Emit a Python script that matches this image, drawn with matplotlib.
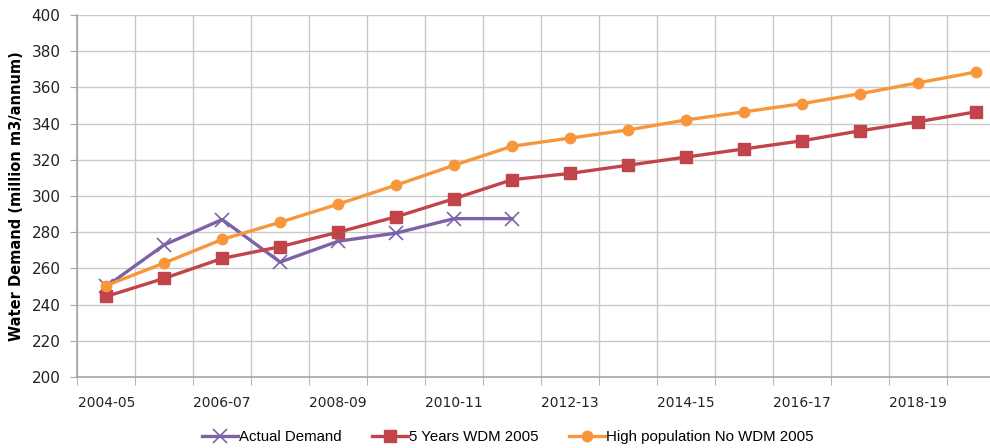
import numpy as np
import matplotlib
matplotlib.use("Agg")
import matplotlib.pyplot as plt
from matplotlib.ticker import FixedLocator

years = ["2004-05", "2005-06", "2006-07", "2007-08", "2008-09", "2009-10",
         "2010-11", "2011-12", "2012-13", "2013-14", "2014-15", "2015-16",
         "2016-17", "2017-18", "2018-19", "2019-20"]

actual_demand = [250, 273, 287, 263.5, 275, 279.5, 287.5, 287.5]
wdm_5yr = [244.5, 254.5, 265.5, 272, 280, 288.5, 298.5, 309, 312.5, 317,
           321.5, 326, 330.5, 336, 341, 346.5]
high_pop = [250.5, 263, 276, 285.5, 295.5, 306, 317, 327.5, 332, 336.5,
            342, 346.5, 351, 356.5, 362.5, 368.5]

purple = "#7E62A8"
red = "#C0444A"
orange = "#F7963A"

fig = plt.figure(figsize=(9.9, 4.48), dpi=100)
ax = fig.add_axes([0.078, 0.1585, 0.937, 0.808])

x = np.arange(len(years))

ax.plot(x[:len(actual_demand)], actual_demand, color=purple, linewidth=2.4,
        marker="x", markersize=10, markeredgewidth=1.2, label="Actual Demand")
ax.plot(x, wdm_5yr, color=red, linewidth=2.4, marker="s", markersize=8,
        label="5 Years WDM 2005")
ax.plot(x, high_pop, color=orange, linewidth=2.4, marker="o", markersize=7.5,
        label="High population No WDM 2005")

ax.set_xlim(-0.5, len(years) - 0.5)
ax.set_ylim(200, 400)
ax.set_yticks(np.arange(200, 401, 20))

ax.set_xticks(x[::2])
ax.set_xticklabels(years[::2], fontsize=10, color="#222222")
ax.xaxis.set_minor_locator(FixedLocator(np.arange(-0.5, len(years), 1.0)))
ax.tick_params(axis="x", which="major", length=0, pad=14)
ax.tick_params(axis="x", which="minor", length=6, color="#A6A6A6", direction="out")
ax.tick_params(axis="y", length=5, color="#A6A6A6", labelsize=11,
               labelcolor="#222222", pad=7)

ax.grid(True, axis="y", which="major", color="#C8C8C8", linewidth=1)
ax.grid(True, axis="x", which="minor", color="#C8C8C8", linewidth=1)
ax.set_axisbelow(True)

for s in ["top", "right"]:
    ax.spines[s].set_visible(False)
for s in ["left", "bottom"]:
    ax.spines[s].set_color("#A6A6A6")
    ax.spines[s].set_linewidth(1.2)

ax.set_ylabel("Water Demand (million m3/annum)", fontsize=10.5,
              fontweight="bold", labelpad=5)

fig.legend(loc="lower center", bbox_to_anchor=(0.513, -0.022), ncol=3,
           frameon=False, handlelength=2.4, columnspacing=2.0,
           handletextpad=0.1, prop={"family": "Liberation Sans", "size": 10.8})

plt.savefig("out.png", dpi=100)
plt.close()
